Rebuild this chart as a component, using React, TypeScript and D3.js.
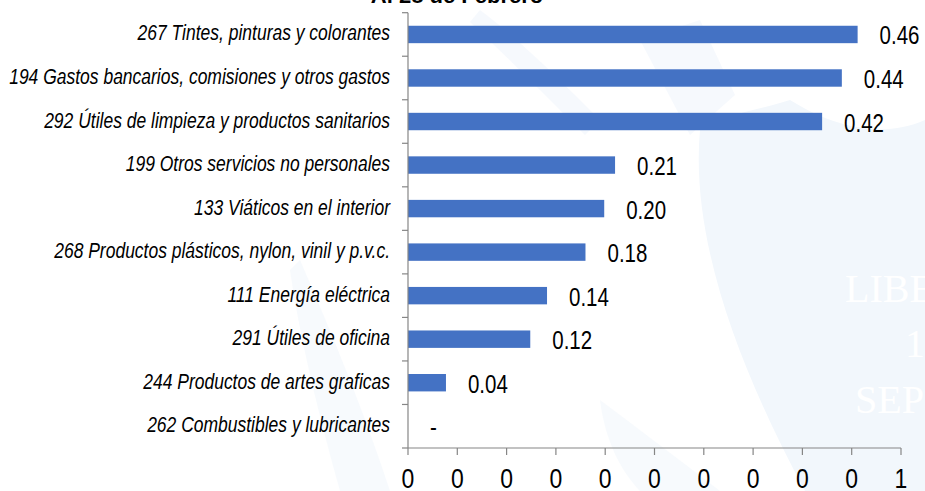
import * as d3 from 'd3';

const categories = [
  '267 Tintes, pinturas y colorantes',
  '194 Gastos bancarios, comisiones y otros gastos',
  '292 Útiles de limpieza y productos sanitarios',
  '199 Otros servicios no personales',
  '133 Viáticos en el interior',
  '268 Productos plásticos, nylon, vinil y p.v.c.',
  '111 Energía eléctrica',
  '291 Útiles de oficina',
  '244 Productos de artes graficas',
  '262 Combustibles y lubricantes',
];
const values = [0.456, 0.44, 0.42, 0.21, 0.199, 0.18, 0.141, 0.124, 0.0385, 0];
const valueLabels = ['0.46', '0.44', '0.42', '0.21', '0.20', '0.18', '0.14', '0.12', '0.04', '-'];
const tickValues = [0, 0.05, 0.1, 0.15, 0.2, 0.25, 0.3, 0.35, 0.4, 0.45, 0.5];
const tickLabels = ['0', '0', '0', '0', '0', '0', '0', '0', '0', '0', '1'];
const title = 'Al 28 de Febrero';

const W = 925;
const H = 491;
const sans = '"Liberation Sans", Arial, sans-serif';
// no narrow face installed: squeeze Liberation Sans like Arial Narrow
const SQ = 0.82;

function Narrow(props: { x: number; y: number; anchor?: string; size: number; italic?: boolean; sq?: number; children: string }) {
  return (
    <text
      transform={`translate(${props.x},${props.y}) scale(${props.sq || SQ},1)`}
      textAnchor={props.anchor || 'start'}
      fontFamily={sans}
      fontStyle={props.italic ? 'italic' : 'normal'}
      fontSize={props.size}
      fill="#000"
    >
      {props.children}
    </text>
  );
}

export default function App() {
  const x = d3.scaleLinear().domain([0, 0.5]).range([408, 901]);
  const y = d3.scaleBand<string>().domain(categories).range([12.7, 448]).paddingInner(0.6).paddingOuter(0.3);
  const top = 12.7;
  const bottom = 448;
  const boundaries = d3.range(categories.length + 1).map(i => top + (i * (bottom - top)) / categories.length);

  return (
    <svg width={W} height={H} style={{ position: 'absolute', left: 0, top: 0, background: '#fff' }}>
      {/* faint watermark */}
      <g fill="#f2f7fc">
        <path d="M700,130 C690,240 740,370 805,491 L925,491 L925,120 C880,140 830,125 790,100 C760,110 720,115 700,130 Z" />
        <ellipse cx={905} cy={40} rx={30} ry={55} fill="#fff" />
        <path d="M640,40 L700,20 L735,95 L690,135 Z" opacity={0.7} />
        <path d="M480,10 C520,40 560,80 600,120 L585,135 C545,95 505,55 470,22 Z" opacity={0.7} />
        <path d="M300,260 C330,330 360,400 390,491 L340,491 C320,420 300,340 290,270 Z" opacity={0.6} />
        <path d="M600,400 C640,430 680,460 720,491 L640,491 C620,470 605,440 600,400 Z" opacity={0.6} />
      </g>
      <g fill="#fff" fontFamily="'Liberation Serif', 'DejaVu Serif', serif" fontSize={40}>
        <text x={845} y={302}>LIBERTAD</text>
        <text x={905} y={357}>1</text>
        <text x={855} y={413}>SEP</text>
      </g>

      <text x={457} y={3} textAnchor="middle" fontFamily={sans} fontWeight="bold" fontSize={22} fill="#000">
        {title}
      </text>

      {/* bars */}
      {categories.map((c, i) => (
        <rect key={c} x={x(0)} y={y(c)!} width={x(values[i]) - x(0)} height={y.bandwidth()} fill="#4472c4" />
      ))}

      {/* left axis */}
      <line x1={408} x2={408} y1={top} y2={bottom} stroke="#868686" strokeWidth={1.2} />
      {boundaries.map((b, i) => (
        <line key={i} x1={402} x2={408} y1={b} y2={b} stroke="#868686" strokeWidth={1.2} />
      ))}

      {/* bottom axis */}
      <line x1={x(0)} x2={x(0.5)} y1={bottom} y2={bottom} stroke="#868686" strokeWidth={1.2} />
      {tickValues.map((t, i) => (
        <g key={i}>
          <line x1={x(t)} x2={x(t)} y1={bottom} y2={bottom + 7} stroke="#868686" strokeWidth={1.2} />
          <Narrow x={x(t)} y={488} anchor="middle" size={28}>{tickLabels[i]}</Narrow>
        </g>
      ))}

      {/* category labels */}
      {categories.map(c => (
        <Narrow key={c} x={390} y={y(c)! + y.bandwidth() / 2 + 6} anchor="end" size={22} sq={0.795} italic>
          {c}
        </Narrow>
      ))}

      {/* value labels */}
      {categories.map((c, i) => (
        <Narrow key={c} x={x(values[i]) + 22} y={y(c)! + y.bandwidth() / 2 + 10} size={25}>
          {valueLabels[i]}
        </Narrow>
      ))}
    </svg>
  );
}
